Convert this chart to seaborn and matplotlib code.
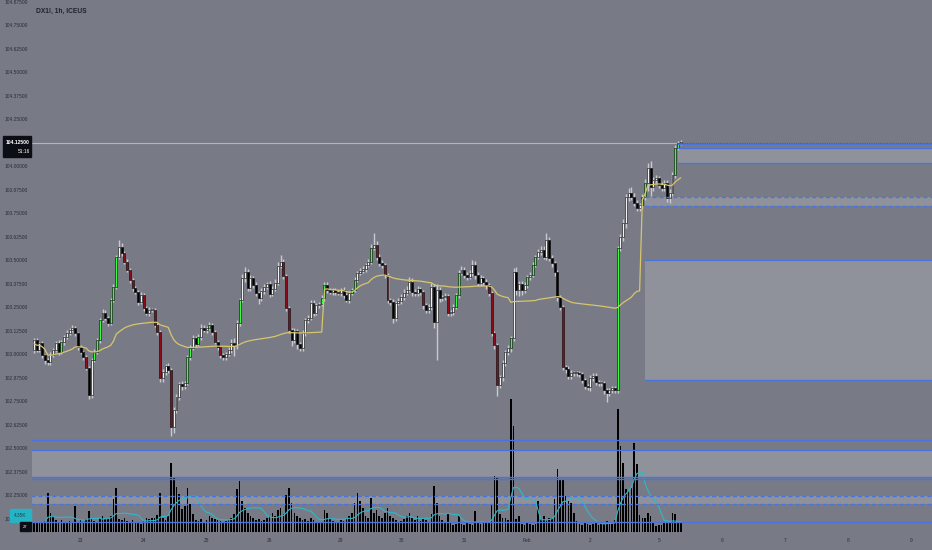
import numpy as np
import pandas as pd
import matplotlib
matplotlib.use("Agg")
import matplotlib.pyplot as plt
import seaborn as sns
from matplotlib.patches import Rectangle

# DX1!, 1h bars (Jan 22 - Feb 5)
first_open = 103.021
closes = [
    103.074, 103.021, 103.059, 102.995, 102.968, 102.957, 102.995, 103.021, 103.059, 103.011,
    103.064, 103.090, 103.112, 103.128, 103.138, 103.112, 103.037, 103.011, 102.984, 102.926,
    102.782, 102.968, 103.011, 103.074, 103.181, 103.218, 103.191, 103.165, 103.287, 103.356,
    103.516, 103.569, 103.537, 103.489, 103.447, 103.394, 103.351, 103.330, 103.277, 103.314,
    103.245, 103.218, 103.234, 103.234, 103.154, 103.117, 102.872, 102.904, 102.936, 102.915,
    102.612, 102.702, 102.771, 102.840, 102.830, 102.846, 102.984, 103.032, 103.085, 103.053,
    103.090, 103.138, 103.128, 103.138, 103.154, 103.117, 103.064, 103.037, 102.995, 102.984,
    103.000, 103.021, 103.059, 103.048, 103.165, 103.287, 103.404, 103.436, 103.351, 103.404,
    103.367, 103.324, 103.298, 103.335, 103.356, 103.372, 103.319, 103.346, 103.378, 103.468,
    103.489, 103.415, 103.245, 103.128, 103.074, 103.122, 103.053, 103.032, 103.112, 103.181,
    103.191, 103.271, 103.218, 103.261, 103.266, 103.298, 103.367, 103.340, 103.330, 103.340,
    103.330, 103.324, 103.340, 103.314, 103.287, 103.324, 103.340, 103.394, 103.431, 103.441,
    103.452, 103.473, 103.489, 103.564, 103.580, 103.516, 103.484, 103.473, 103.420, 103.287,
    103.277, 103.191, 103.271, 103.282, 103.303, 103.324, 103.340, 103.383, 103.330, 103.324,
    103.346, 103.330, 103.261, 103.234, 103.250, 103.356, 103.170, 103.340, 103.298, 103.303,
    103.308, 103.218, 103.223, 103.250, 103.314, 103.431, 103.447, 103.420, 103.410, 103.431,
    103.473, 103.420, 103.378, 103.404, 103.383, 103.367, 103.324, 103.112, 103.048, 102.835,
    102.878, 102.952, 103.011, 103.032, 103.085, 103.436, 103.340, 103.372, 103.340, 103.367,
    103.410, 103.420, 103.473, 103.516, 103.543, 103.553, 103.516, 103.606, 103.511, 103.484,
    103.436, 103.303, 103.250, 102.931, 102.920, 102.883, 102.899, 102.899, 102.899, 102.894,
    102.862, 102.830, 102.824, 102.872, 102.883, 102.851, 102.846, 102.846, 102.809, 102.793,
    102.809, 102.819, 102.809, 103.564, 103.622, 103.697, 103.835, 103.856, 103.835, 103.803,
    103.777, 103.793, 103.835, 103.910, 103.989, 103.888, 103.926, 103.936, 103.899, 103.883,
    103.910, 103.830, 103.856, 103.952, 104.096, 104.122, 104.125,
]
# wick lengths in ticks (1 tick = 0.005)
upper_wick_ticks = """
2 2 1 2 1 2 3 2 2 3  2 2 3 2 3 2 1 2 1 2  2 2 3 2 2 4 3 2 2 3  2 8 4 2 3 2 2 2 2 3
2 2 3 2 2 2 2 3 2 3  2 3 3 2 3 2 2 3 3 2  3 4 3 2 3 2 2 2 1 2  2 3 4 5 3 2 4 5 3 3
2 3 2 3 3 2 3 3 4 4  8 3 2 2 2 3 2 2 3 2  3 3 3 2 2 3 3 3 2 2  2 2 2 3 2 2 2 3 2 3
3 2 3 4 13 4 3 3 2 2  2 3 2 3 3 4 4 5 4 3  3 2 2 2 3 4 3 6 3 2  3 2 2 3 2 3 4 3 3 3
5 4 3 3 2 3 2 2 2 2  2 3 2 3 2 4 5 3 3 3  2 3 3 2 3 4 4 7 3 3  2 2 2 2 2 3 3 2 2 2
2 2 2 3 3 3 2 2 2 2  2 2 2 2 3 4 3 5 6 4  3 2 3 4 5 7 3 3 2 3  3 3 4 3 3 2 3
"""
lower_wick_ticks = """
3 2 2 3 4 3 3 2 2 3  2 3 2 2 2 3 3 2 3 2  4 3 2 2 3 2 2 3 2 2  2 2 3 2 2 3 3 2 3 2
3 2 3 2 2 3 4 4 3 3  10 6 3 3 4 3 2 3 2 3  2 3 2 3 2 3 2 3 3 3  3 2 3 12 4 3 2 4 3 3
3 3 6 3 3 2 3 2 2 2  2 3 3 3 6 3 5 3 3 3  3 2 3 2 3 2 3 3 2 3  3 2 3 3 2 3 2 2 2 2
2 3 2 2 2 3 3 3 3 3  3 5 3 2 3 3 2 2 4 3  3 3 4 3 3 3 6 40 4 3  3 3 3 3 2 3 2 3 3 2
3 4 3 3 3 4 3 3 4 12  3 4 3 3 4 3 5 6 5 3  3 3 2 2 2 3 2 3 3 4  4 4 3 3 4 3 3 3 3 3
3 3 3 4 3 3 3 3 4 10  3 3 3 3 3 4 5 4 3 3  3 3 4 3 9 10 4 3 3 3  3 4 5 3 3 2 2
"""
volumes = [
    10, 9, 10, 9, 11, 39, 19, 16, 12, 10,  12, 10, 9, 11, 10, 26, 10, 12, 9, 13,
    21, 13, 11, 10, 14, 16, 13, 14, 16, 33,  44, 13, 12, 14, 11, 10, 12, 9, 10, 8,
    11, 14, 13, 14, 14, 17, 39, 14, 12, 16,  69, 54, 45, 38, 23, 26, 44, 28, 18, 12,
    11, 13, 10, 12, 16, 14, 13, 12, 11, 10,  11, 12, 14, 18, 43, 51, 31, 24, 19, 16,
    14, 12, 13, 11, 12, 14, 16, 19, 16, 22,  24, 18, 37, 44, 29, 19, 16, 14, 12, 13,
    11, 14, 12, 10, 9, 10, 22, 19, 14, 11,  10, 9, 12, 11, 14, 16, 19, 29, 39, 31,
    24, 16, 14, 34, 19, 22, 16, 14, 19, 24,  16, 14, 12, 10, 11, 13, 16, 19, 14, 12,
    16, 11, 14, 12, 10, 18, 46, 29, 16, 12,  10, 19, 9, 7, 8, 16, 8, 7, 9, 8,
    7, 21, 9, 8, 10, 9, 10, 28, 56, 54,  18, 14, 14, 12, 133, 106, 13, 16, 8, 7,
    9, 8, 7, 8, 31, 13, 16, 12, 14, 14,  33, 63, 53, 53, 36, 31, 29, 19, 11, 8,
    7, 9, 8, 7, 8, 9, 7, 10, 8, 11,  9, 10, 12, 123, 86, 69, 43, 41, 44, 89,
    68, 17, 14, 14, 19, 16, 9, 6, 7, 7,  9, 9, 10, 19, 18, 10, 9,
]
green_bars = [10, 22, 23, 24, 28, 29, 30, 56, 57, 60, 64, 75, 105, 106, 116, 117, 123,
              154, 155, 174, 180, 182, 183, 213, 222, 223, 234, 235]
red_bars = [19, 33, 34, 35, 36, 40, 44, 45, 46, 50, 66, 68, 91, 92, 93, 111, 125, 128,
            129, 142, 151, 166, 167, 168, 169, 193]
week_starts = [0, 106, 222]

day_bars = [17, 40, 63, 86, 112, 134, 157, 180, 203, 228, 251, 274, 297, 320]
day_labels = ["23", "24", "25", "26", "29", "30", "31", "Feb", "2", "5", "6", "7", "8", "9"]
price_ticks = [102.125, 102.25, 102.375, 102.5, 102.625, 102.75, 102.875, 103.0, 103.125,
               103.25, 103.375, 103.5, 103.625, 103.75, 103.875, 104.0, 104.25, 104.375,
               104.5, 104.625, 104.75, 104.875]
last_price = 104.125

# drawn horizontal levels: (price, first bar)
solid_levels = [(104.117, 235), (104.094, 235), (104.018, 235), (103.500, 223), (102.862, 223),
                (102.543, -1), (102.489, -1), (102.344, -1), (102.336, -1), (102.106, -1)]
dashed_levels = [(103.837, 223), (103.787, 223), (102.245, -1), (102.202, -1)]
zones = [(104.018, 104.094, 235), (103.787, 103.837, 223), (102.862, 103.500, 223),
         (102.340, 102.489, -1), (102.202, 102.245, -1)]

TICK = 0.005
BG = "#787b86"
BLUE = "#4a74dc"

sns.set_theme(style="dark")
plt.rcParams["font.family"] = ["Liberation Sans", "DejaVu Sans"]

c = np.array(closes)
n = len(c)
bars = np.arange(n)
o = np.r_[first_open, c[:-1]]
up = np.array(upper_wick_ticks.split(), float) * TICK
dn = np.array(lower_wick_ticks.split(), float) * TICK
hi = np.maximum(o, c) + up
lo = np.minimum(o, c) - dn

colors = np.where(c >= o, "#f2f2f2", "#000000").astype(object)
colors[green_bars] = "#39ff3a"
colors[red_bars] = "#8c0c18"

df = pd.DataFrame({"bar": bars, "close": c, "vol": volumes,
                   "tp": (hi + lo + c) / 3})
df["week"] = np.searchsorted(week_starts, bars, side="right") - 1
df["pv"] = df["tp"] * df["vol"]
df["vwap"] = df.groupby("week")["pv"].cumsum() / df.groupby("week")["vol"].cumsum()
df["vol_ma"] = df["vol"].rolling(10, min_periods=1).mean()

W, H = 932, 550
fig = plt.figure(figsize=(W / 100, H / 100), dpi=100, facecolor=BG)
ax = fig.add_axes([32 / W, 18 / H, 900 / W, 532 / H])
ax.set_facecolor(BG)
x_right = 327.7
ax.set_xlim(-0.73, x_right)
ax.set_ylim(102.0532, 104.883)

# zone fills (under everything)
for z_lo, z_hi, start in zones:
    ax.fill_between([start, x_right], z_lo, z_hi, color="#8f929b", lw=0, zorder=0.5)

# candles
ax.vlines(bars, lo, hi, color="#c8cad0", lw=1.0, zorder=2)
ax.bar(bars, np.maximum(np.abs(c - o), 0.004), bottom=np.minimum(o, c), width=0.72,
       color=list(colors), edgecolor="black", linewidth=0.4, zorder=3)

# weekly vwap
sns.lineplot(data=df, x="bar", y="vwap", ax=ax, color="#d8c56c", lw=0.9, zorder=4)

# last price line
ax.hlines(last_price, -1, n - 0.5, color="#b4b6bd", lw=0.8, zorder=1)
ax.hlines(last_price, n - 0.5, x_right, color="#4b5878", lw=0.8, ls=(0, (1, 1)), zorder=1)

ax.set_yticks(price_ticks)
ax.set_yticklabels([f"{p:.5f}" for p in price_ticks])
ax.set_xticks(day_bars)
ax.set_xticklabels(day_labels)
ax.tick_params(axis="y", length=0, pad=3, labelsize=3.5, labelcolor="#2a2d36")
ax.tick_params(axis="x", length=0, pad=4, labelsize=3.5, labelcolor="#2a2d36")
ax.set_xlabel("")
ax.set_ylabel("")
ax.grid(False)
for s in ax.spines.values():
    s.set_visible(False)

# volume pane overlay
ax2 = ax.twinx()
ax2.bar(bars, df["vol"], width=0.6, color="black", lw=0, zorder=2)
sns.lineplot(data=df, x="bar", y="vol_ma", ax=ax2, color="#2bb9cc", lw=0.8, zorder=3)
ax2.hlines(0.5, -1, x_right, color="#4a4d57", lw=0.6, zorder=1)

# drawn levels on top of the volume bars
for price, start in solid_levels:
    ax2.plot([start, x_right], [price, price], color=BLUE, lw=1.0,
             transform=ax.transData, zorder=5)
for price, start in dashed_levels:
    ax2.plot([start, x_right], [price, price], color=BLUE, lw=1.0, ls=(0, (3, 2)),
             transform=ax.transData, zorder=5)
ax2.set_ylim(0, 532)
ax2.set_xlim(-0.73, x_right)
ax2.set_yticks([])
ax2.set_ylabel("")
ax2.grid(False)
for s in ax2.spines.values():
    s.set_visible(False)

# left price / volume labels
def px_box(x0, y0, x1, y1, color):
    fig.patches.append(Rectangle((x0 / W, 1 - y1 / H), (x1 - x0) / W, (y1 - y0) / H,
                                 transform=fig.transFigure, color=color, zorder=10))

px_box(3, 136, 31, 157, "#0c0e15")
fig.text(30 / W, 1 - 142 / H, "104.12500", color="white", fontsize=3.6, weight="bold",
         ha="right", va="center", zorder=11)
fig.text(30 / W, 1 - 151.5 / H, "51:16", color="white", fontsize=3.4,
         ha="right", va="center", zorder=11)
px_box(10, 509, 31, 522, "#26b3c4")
fig.text(20.5 / W, 1 - 515.5 / H, "4.35K", color="#20404a", fontsize=3.4,
         ha="center", va="center", zorder=11)
px_box(20, 522, 31, 531, "#0c0e15")
fig.text(25.5 / W, 1 - 527 / H, "27", color="white", fontsize=3.0,
         ha="center", va="center", zorder=11)

fig.text(36 / W, 1 - 11 / H, "DX1!, 1h, ICEUS", color="#1f222b", fontsize=4.8,
         weight="bold", ha="left", va="center")

fig.savefig("out.png", dpi=100, facecolor=BG)
